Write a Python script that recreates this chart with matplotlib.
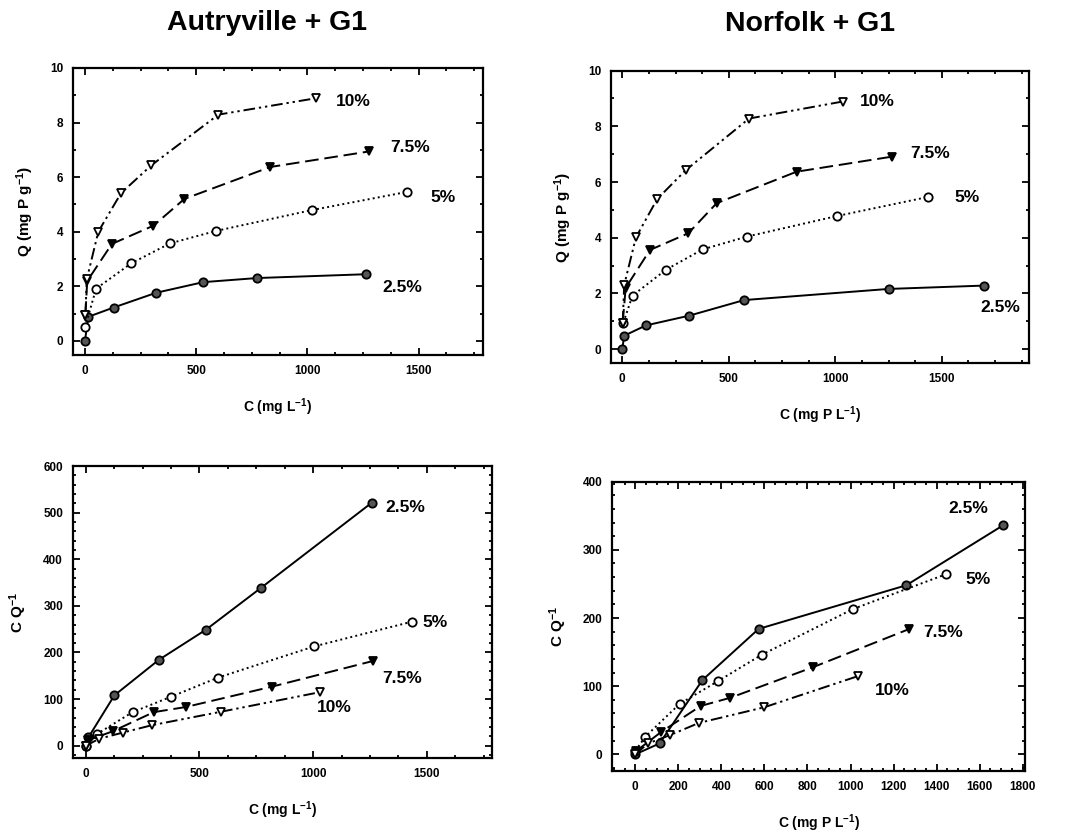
import matplotlib
matplotlib.use("Agg")
import matplotlib.pyplot as plt
from matplotlib.ticker import MultipleLocator

plt.rcParams['font.family'] = ['Liberation Sans', 'DejaVu Sans']
plt.rcParams['font.weight'] = 'bold'
plt.rcParams['mathtext.fontset'] = 'custom'
plt.rcParams['mathtext.bf'] = 'Liberation Sans:bold'
plt.rcParams['mathtext.rm'] = 'Liberation Sans:bold'
plt.rcParams['mathtext.default'] = 'bf'

levels = ['2.5%', '5%', '7.5%', '10%']

# Autryville + G1, Q vs C
aut_q_c = {
    '2.5%': [0, 15, 129, 320, 532, 774, 1265],
    '5%':   [0, 50, 208, 382, 591, 1020, 1450],
    '7.5%': [2, 10, 121, 308, 447, 833, 1277],
    '10%':  [2, 8, 60, 162, 298, 600, 1038],
}
aut_q_q = {
    '2.5%': [0.0, 0.88, 1.22, 1.76, 2.15, 2.30, 2.44],
    '5%':   [0.49, 1.91, 2.84, 3.57, 4.03, 4.79, 5.46],
    '7.5%': [0.95, 2.19, 3.55, 4.22, 5.20, 6.37, 6.94],
    '10%':  [0.95, 2.25, 4.00, 5.41, 6.43, 8.29, 8.89],
}
# Norfolk + G1, Q vs C
nor_q_c = {
    '2.5%': [0, 9, 111, 314, 572, 1250, 1697],
    '5%':   [5, 48, 205, 377, 585, 1009, 1433],
    '7.5%': [2, 16, 130, 310, 443, 818, 1265],
    '10%':  [2, 9, 64, 164, 297, 595, 1034],
}
nor_q_q = {
    '2.5%': [0.0, 0.48, 0.85, 1.20, 1.76, 2.16, 2.28],
    '5%':   [0.95, 1.92, 2.85, 3.58, 4.04, 4.78, 5.46],
    '7.5%': [0.95, 2.20, 3.56, 4.16, 5.24, 6.37, 6.91],
    '10%':  [0.95, 2.30, 4.01, 5.39, 6.42, 8.28, 8.89],
}
# Autryville + G1, C/Q vs C
aut_l_c = {
    '2.5%': [0, 12, 126, 321, 529, 769, 1257],
    '5%':   [0, 49, 206, 375, 581, 1004, 1434],
    '7.5%': [0, 12, 119, 299, 440, 821, 1265],
    '10%':  [0, 60, 162, 291, 596, 1031],
}
aut_l_y = {
    '2.5%': [0, 18, 108, 184, 249, 338, 521],
    '5%':   [0, 25, 72, 105, 146, 213, 266],
    '7.5%': [0, 12, 31, 72, 83, 127, 182],
    '10%':  [0, 15, 28, 44, 73, 115],
}
# Norfolk + G1, C/Q vs C
nor_l_c = {
    '2.5%': [0, 113, 312, 573, 1259, 1709],
    '5%':   [0, 47, 206, 382, 587, 1010, 1442],
    '7.5%': [5, 121, 304, 442, 827, 1274],
    '10%':  [0, 59, 160, 295, 599, 1037],
}
nor_l_y = {
    '2.5%': [0, 16, 109, 184, 248, 336],
    '5%':   [5, 26, 74, 107, 146, 213, 264],
    '7.5%': [5, 33, 71, 83, 128, 184],
    '10%':  [0, 16, 28, 46, 69, 115],
}

styles = {
    '2.5%': dict(ls='-', marker='o', mfc='#555555', mec='black'),
    '5%':   dict(ls=':', marker='o', mfc='white', mec='black'),
    '7.5%': dict(ls=(0, (7, 3)), marker='v', mfc='black', mec='black'),
    '10%':  dict(ls=(0, (6, 2, 1.2, 2, 1.2, 2)), marker='v', mfc='white', mec='black'),
}

fig = plt.figure(figsize=(10.65, 8.38), dpi=100)

panels = [
    dict(rect=[0.0683, 0.5764, 0.3853, 0.3425], xs=aut_q_c, ys=aut_q_q,
         xlim=(-55, 1790), ylim=(-0.52, 10), xmaj=500, xmin=125, ymaj=2, ymin=1,
         xlabel='C (mg L$^{-1}$)', ylabel='Q (mg P g$^{-1}$)',
         labels={'10%': (1207, 8.76), '7.5%': (1464, 7.07), '5%': (1608, 5.27), '2.5%': (1428, 1.97)}),
    dict(rect=[0.5737, 0.5665, 0.3925, 0.3492], xs=nor_q_c, ys=nor_q_q,
         xlim=(-53, 1909), ylim=(-0.51, 10), xmaj=500, xmin=125, ymaj=2, ymin=1,
         xlabel='C (mg P L$^{-1}$)', ylabel='Q (mg P g$^{-1}$)',
         labels={'10%': (1196, 8.88), '7.5%': (1445, 7.04), '5%': (1618, 5.43), '2.5%': (1773, 1.51)}),
    dict(rect=[0.0683, 0.0951, 0.3934, 0.3488], xs=aut_l_c, ys=aut_l_y,
         xlim=(-57, 1785), ylim=(-27, 600), xmaj=500, xmin=125, ymaj=100, ymin=20,
         xlabel='C (mg L$^{-1}$)', ylabel='C Q$^{-1}$',
         labels={'2.5%': (1404, 512), '5%': (1536, 265), '7.5%': (1391, 145), '10%': (1092, 81)}),
    dict(rect=[0.5749, 0.0800, 0.3878, 0.3452], xs=nor_l_c, ys=nor_l_y,
         xlim=(-107, 1812), ylim=(-24.4, 400), xmaj=200, xmin=50, ymaj=100, ymin=20,
         xlabel='C (mg P L$^{-1}$)', ylabel='C Q$^{-1}$',
         labels={'2.5%': (1547, 361), '5%': (1594, 256), '7.5%': (1431, 179), '10%': (1193, 94)}),
]

for p in panels:
    ax = fig.add_axes(p['rect'])
    for lev in levels:
        ax.plot(p['xs'][lev], p['ys'][lev], color='black', lw=1.4, ms=6, mew=1.3,
                **styles[lev])
        tx, ty = p['labels'][lev]
        ax.text(tx, ty, lev, ha='center', va='center', fontsize=12.5, fontweight='bold')
    ax.set_xlim(*p['xlim'])
    ax.set_ylim(*p['ylim'])
    ax.xaxis.set_major_locator(MultipleLocator(p['xmaj']))
    ax.xaxis.set_minor_locator(MultipleLocator(p['xmin']))
    ax.yaxis.set_major_locator(MultipleLocator(p['ymaj']))
    ax.yaxis.set_minor_locator(MultipleLocator(p['ymin']))
    ax.tick_params(which='both', direction='in', top=True, right=True, width=1.3,
                   labelsize=8.5, pad=7)
    ax.tick_params(which='major', length=5)
    ax.tick_params(which='minor', length=2.5)
    for lab in ax.get_xticklabels() + ax.get_yticklabels():
        lab.set_fontweight('bold')
    for s in ax.spines.values():
        s.set_linewidth(1.6)
    ax.set_xlabel(p['xlabel'], fontsize=10, fontweight='bold', labelpad=14)
    ax.set_ylabel(p['ylabel'], fontsize=11, fontweight='bold', labelpad=10)

fig.text(0.251, 0.973, 'Autryville + G1', ha='center', va='center', fontsize=20.5, fontweight='bold')
fig.text(0.761, 0.971, 'Norfolk + G1', ha='center', va='center', fontsize=20.5, fontweight='bold')

fig.savefig('out.png', dpi=100)
